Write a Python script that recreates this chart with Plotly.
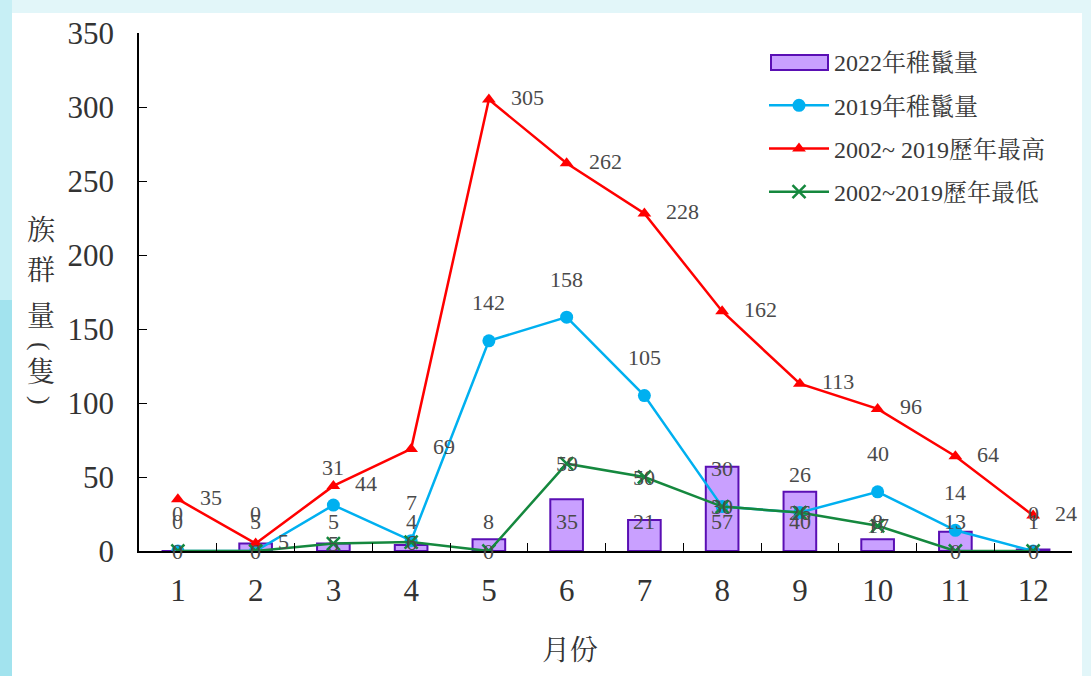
import plotly.graph_objects as go

months = [str(m) for m in range(1, 13)]
bars_2022 = [0, 5, 5, 4, 8, 35, 21, 57, 40, 8, 13, 1]
blue_2019 = [0, 0, 31, 7, 142, 158, 105, 30, 26, 40, 14, 0]
red_max = [35, 5, 44, 69, 305, 262, 228, 162, 113, 96, 64, 24]
green_min = [0, 0, 5, 6, 0, 59, 50, 30, 26, 17, 0, 0]
y_ticks = [0, 50, 100, 150, 200, 250, 300, 350]
names = ["2022年稚鬣量", "2019年稚鬣量", "2002~ 2019歷年最高", "2002~2019歷年最低"]

W, H = 1091, 676
L, R, T, B = 139, 1072, 33, 551
def px(x):
    return (x - L) / (R - L)
def py(y):
    return (B - y) / (B - T)

FONT = "Liberation Serif, 'Noto Serif CJK TC', 'Noto Sans CJK TC', serif"
LABEL_COLOR = "#4a4a4a"
BAR_FILL = "#c9a0ff"
BAR_LINE = "#5a0fb4"

fig = go.Figure()
fig.add_trace(go.Bar(
    x=months, y=bars_2022, name=names[0], width=0.42, showlegend=False,
    marker=dict(color=BAR_FILL, line=dict(color=BAR_LINE, width=2)),
))
# legend entry for the bars (its symbol is drawn as a wide rectangle shape below)
fig.add_trace(go.Scatter(
    x=[None], y=[None], name=names[0], mode="lines", legendgroup="a",
    line=dict(color="rgba(0,0,0,0)", width=1),
))
fig.add_trace(go.Scatter(
    x=months, y=blue_2019, name=names[1], mode="lines+markers", legendgroup="b",
    line=dict(color="#00b0f0", width=2.5),
    marker=dict(symbol="circle", size=13, color="#00b0f0"),
))
fig.add_trace(go.Scatter(
    x=months, y=red_max, name=names[2], mode="lines+markers", legendgroup="c",
    line=dict(color="#ff0000", width=2.5),
    marker=dict(symbol="triangle-up", size=12, color="#ff0000"),
))
fig.add_trace(go.Scatter(
    x=months, y=green_min, name=names[3], mode="lines+markers", legendgroup="d",
    line=dict(color="#15883e", width=2.5),
    marker=dict(symbol="x-thin", size=13, line=dict(color="#15883e", width=2.5)),
))

ann = []
lab_font = dict(family=FONT, size=22, color=LABEL_COLOR)
for i, v in enumerate(bars_2022):
    ann.append(dict(x=i, y=0, text=str(v), showarrow=False, yshift=30, font=lab_font))
for i, v in enumerate(blue_2019):
    ann.append(dict(x=i, y=v, text=str(v), showarrow=False, yshift=38, font=lab_font))
for i, v in enumerate(red_max):
    ann.append(dict(x=i, y=v, text=str(v), showarrow=False, xanchor="left", xshift=20, yshift=2, font=lab_font))
for i, v in enumerate(green_min):
    ann.append(dict(x=i, y=v, text=str(v), showarrow=False, font=lab_font))

# axis titles
ann.append(dict(xref="paper", yref="paper", x=px(570), y=py(650), text="月份", showarrow=False,
                xanchor="center", yanchor="middle",
                font=dict(family=FONT, size=28, color="#333333")))
ytitle = [("族", 230, 28, 0), ("群", 270, 28, 0), ("量", 316, 28, 0), ("(", 346, 26, 90),
          ("隻", 372, 28, 0), (")", 400, 26, 90)]
for ch, ypx, sz, ang in ytitle:
    ann.append(dict(xref="paper", yref="paper", x=px(41), y=py(ypx), text=ch, showarrow=False,
                    xanchor="center", yanchor="middle", textangle=ang,
                    font=dict(family=FONT, size=sz, color="#333333")))

shapes = [
    dict(type="rect", xref="paper", yref="paper", layer="below",
         x0=px(12), x1=px(1082), y0=py(676), y1=py(13), fillcolor="white", line=dict(width=0)),
    dict(type="rect", xref="paper", yref="paper", layer="below",
         x0=px(0), x1=px(12), y0=py(676), y1=py(300), fillcolor="#a2e3ee", line=dict(width=0)),
    dict(type="rect", xref="paper", yref="paper", layer="below",
         x0=px(0), x1=px(12), y0=py(300), y1=py(0), fillcolor="#c7eff5", line=dict(width=0)),
    # legend symbol for the bar series
    dict(type="rect", xref="paper", yref="paper", layer="above",
         x0=px(771), x1=px(828), y0=py(70), y1=py(55), fillcolor=BAR_FILL,
         line=dict(color=BAR_LINE, width=2)),
]

fig.update_layout(
    width=W, height=H,
    margin=dict(l=L, r=W - R, t=T, b=H - B, pad=0, autoexpand=False),
    paper_bgcolor="#e2f6f9",
    plot_bgcolor="rgba(0,0,0,0)",
    font=dict(family=FONT, color="#333333"),
    showlegend=True,
    legend=dict(x=px(764), y=py(40), xanchor="left", yanchor="top",
                bgcolor="rgba(0,0,0,0)", font=dict(family=FONT, size=24, color="#3a3a3a"),
                traceorder="grouped", tracegroupgap=9, itemwidth=60),
    annotations=ann,
    shapes=shapes,
    bargap=0.58,
)
fig.update_xaxes(
    type="category", range=[-0.5, 11.5], tickson="boundaries", ticks="inside", ticklen=8, tickcolor="black",
    showline=True, linecolor="black", linewidth=1.5, showgrid=False, zeroline=False,
    tickfont=dict(family=FONT, size=31, color="#333333"), ticklabelstandoff=11,
)
fig.update_yaxes(
    range=[0, 350], tickvals=y_ticks, ticks="inside", ticklen=8, tickcolor="black",
    showline=True, linecolor="black", linewidth=1.5, showgrid=False, zeroline=False,
    tickfont=dict(family=FONT, size=31, color="#333333"), ticklabelstandoff=17,
)

fig.write_html("out.html", config={"displayModeBar": False},
               post_script="document.body.style.margin='0';document.body.style.overflow='hidden';")
